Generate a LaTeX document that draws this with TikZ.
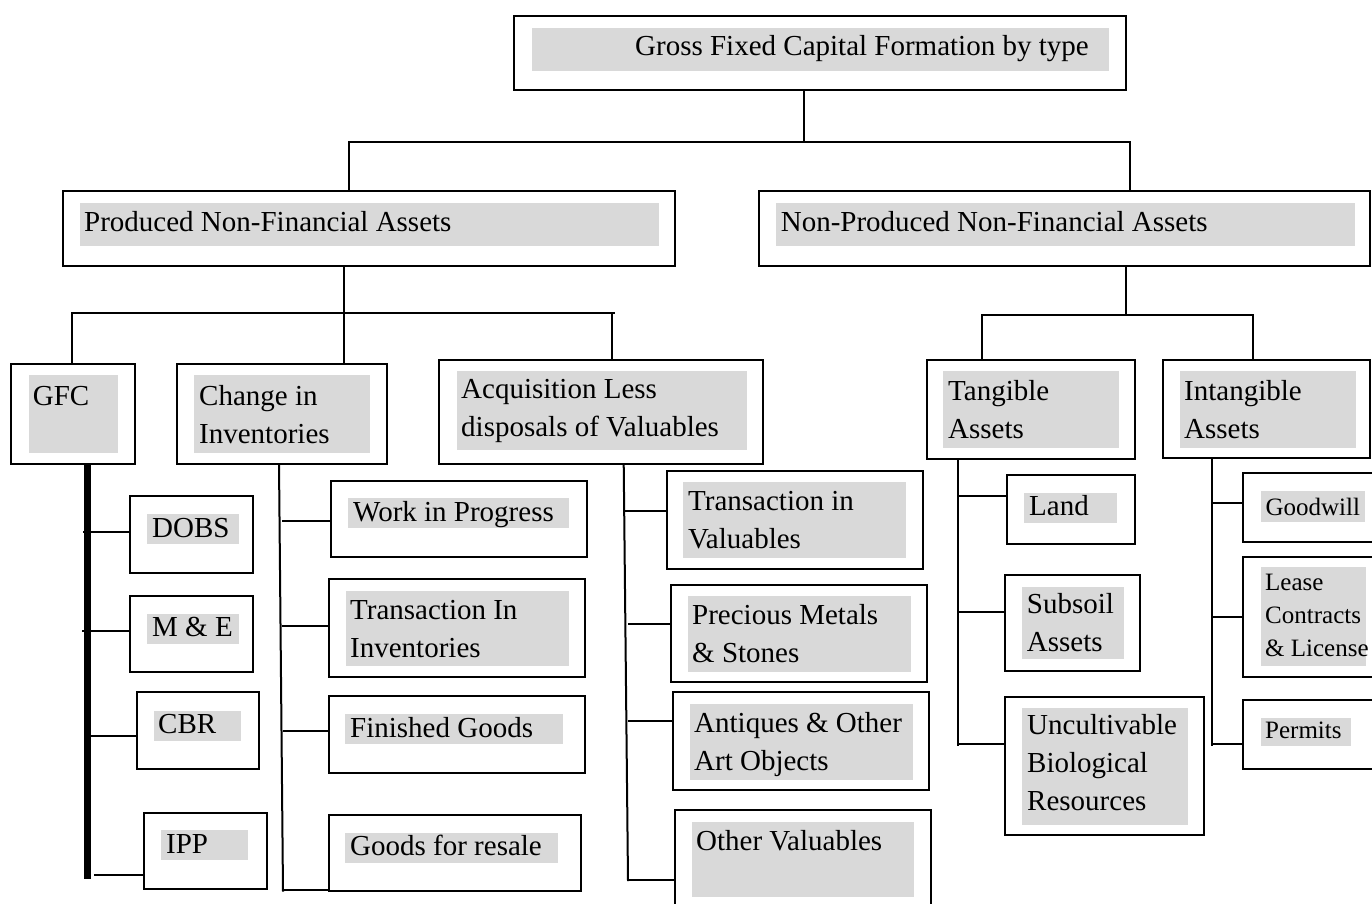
\documentclass[tikz,border=0pt]{standalone}
\usepackage{fontspec}
\setmainfont{Liberation Serif}
\definecolor{boxgrey}{RGB}{217,217,217}

\begin{document}
\begin{tikzpicture}[x=1pt, y=-1pt,
  box/.style={draw, line width=2pt, inner sep=0pt, outer sep=0pt, anchor=north west},
  shade/.style={fill=boxgrey},
  txt/.style={anchor=base west, inner sep=0pt, align=left, font=\fontsize{29}{38}\selectfont},
  smalltxt/.style={txt, font=\fontsize{25}{33}\selectfont},
  conn/.style={line width=2pt},
  spine/.style={line width=7pt}]
\useasboundingbox (0,0) rectangle (1372,903);
\clip (0,0) rectangle (1372,903);

% top level
\node[box, minimum width=612.5pt, minimum height=74.3pt] (gfcf) at (513.5,15.7) {};
\fill[shade] (531.6,28.3) rectangle (1109.4,70.7);
\node[txt] (gfcf-t) at (635,55) {Gross Fixed Capital Formation by type};

\node[box, minimum width=612.5pt, minimum height=75pt] (pnfa) at (62.5,190.7) {};
\fill[shade] (79.5,202.7) rectangle (659,245.7);
\node[txt] (pnfa-t) at (84,231) {Produced Non-Financial Assets};

\node[box, minimum width=611.3pt, minimum height=75pt] (npnfa) at (758.7,190.7) {};
\fill[shade] (775.9,202.7) rectangle (1355,245.7);
\node[txt] (npnfa-t) at (780.6,231) {Non-Produced Non-Financial Assets};

\coordinate (b1l) at (349,142);
\coordinate (b1m) at (804,142);
\coordinate (b1r) at (1130,142);
\draw[conn] (gfcf.south -| b1m) -- (b1m);
\draw[conn] (pnfa.north -| b1l) -- (b1l) -- (b1r) -- (npnfa.north -| b1r);

% produced (multi-line texts sit on their last baseline)
\node[box, minimum width=124pt, minimum height=99.6pt] (gfc) at (11,364) {};
\fill[shade] (29,375) rectangle (118,452.6);
\node[txt] (gfc-t) at (32.7,405) {GFC};

\node[box, minimum width=210pt, minimum height=99.6pt] (chinv) at (177,364) {};
\fill[shade] (194,375) rectangle (370,452.6);
\node[txt] (chinv-t) at (199,443.5) {Change in\\Inventories};

\node[box, minimum width=324pt, minimum height=103.6pt] (acq) at (439,360) {};
\fill[shade] (456.7,371) rectangle (746.7,450);
\node[txt] (acq-t) at (461,436.4) {Acquisition Less\\disposals of Valuables};

\coordinate (b2l) at (72,313);
\coordinate (b2m) at (343.5,313);
\coordinate (b2r) at (612,313);
\draw[conn] (pnfa.south -| b2m) -- (b2m);
\draw[conn] (gfc.north -| b2l) -- (b2l) -- (615,313);
\draw[conn] (b2r) -- (acq.north -| b2r);
\draw[conn] (b2m) -- (chinv.north -| b2m);

% non-produced
\node[box, minimum width=208.6pt, minimum height=99pt] (tang) at (926.7,360) {};
\fill[shade] (943,371) rectangle (1119,447.7);
\node[txt] (tang-t) at (948,438) {Tangible\\Assets};

\node[box, minimum width=207pt, minimum height=98pt] (intang) at (1163,360) {};
\fill[shade] (1180,371) rectangle (1356,447.7);
\node[txt] (intang-t) at (1184,438) {Intangible\\Assets};

\coordinate (b3l) at (982,315);
\coordinate (b3m) at (1126,315);
\coordinate (b3r) at (1253,315);
\draw[conn] (npnfa.south -| b3m) -- (b3m);
\draw[conn] (tang.north -| b3l) -- (b3l) -- (b3r) -- (intang.north -| b3r);

% GFC
\node[box, minimum width=122.7pt, minimum height=77pt] (dobs) at (130,496) {};
\fill[shade] (147,514) rectangle (238.7,544);
\node[txt] (dobs-t) at (152,537.7) {DOBS};

\node[box, minimum width=123pt, minimum height=76pt] (mne) at (130,596) {};
\fill[shade] (147,614) rectangle (239,644);
\node[txt] (mne-t) at (152,636.8) {M \& E};

\node[box, minimum width=122pt, minimum height=77pt] (cbr) at (137,692) {};
\fill[shade] (154,710.5) rectangle (241,740.5);
\node[txt] (cbr-t) at (158,733.8) {CBR};

\node[box, minimum width=123pt, minimum height=76pt] (ipp) at (144,813) {};
\fill[shade] (161,830) rectangle (248,860);
\node[txt] (ipp-t) at (166,853.7) {IPP};

\coordinate (gfc-end) at (87,879);
\draw[spine] (gfc.south -| gfc-end) -- (gfc-end);
\foreach \n/\x/\y in {dobs/83/531.7, mne/82/630.8, cbr/89/736, ipp/94/874.5}
  \draw[conn] (\x,\y) -- (\n.west |- 0,\y);

% change in inventories
\node[box, minimum width=256pt, minimum height=76.2pt] (wip) at (330.7,480.5) {};
\fill[shade] (348,498) rectangle (568.7,527.8);
\node[txt] (wip-t) at (353,521) {Work in Progress};

\node[box, minimum width=256pt, minimum height=98pt] (tii) at (328.7,578.6) {};
\fill[shade] (346,590.6) rectangle (568.7,665.7);
\node[txt] (tii-t) at (350,657) {Transaction In\\Inventories};

\node[box, minimum width=256pt, minimum height=76.6pt] (fg) at (328.7,696.4) {};
\fill[shade] (345,713.7) rectangle (562.7,744.4);
\node[txt] (fg-t) at (350,737.3) {Finished Goods};

\node[box, minimum width=252pt, minimum height=76pt] (gfr) at (328.7,815) {};
\fill[shade] (345,832.5) rectangle (557.7,862.5);
\node[txt] (gfr-t) at (350,855) {Goods for resale};

\coordinate (chinv-end) at (283,891.5);
\draw[conn] (chinv.south -| 279,0) -- (chinv-end);
\foreach \n/\x/\y in {wip/282/521.4, tii/282/626, fg/283/731, gfr/283/889.7}
  \draw[conn] (\x,\y) -- (\n.west |- 0,\y);

% valuables
\node[box, minimum width=256pt, minimum height=98pt] (tiv) at (666.7,471) {};
\fill[shade] (683,482) rectangle (906,557.8);
\node[txt] (tiv-t) at (688,548.6) {Transaction in\\Valuables};

\node[box, minimum width=256pt, minimum height=97.4pt] (pms) at (670.7,584.6) {};
\fill[shade] (688,596) rectangle (910.7,671.7);
\node[txt] (pms-t) at (692,662) {Precious Metals\\\& Stones};

\node[box, minimum width=256.3pt, minimum height=98pt] (aoao) at (672.7,692) {};
\fill[shade] (690,704) rectangle (912.7,779.6);
\node[txt] (aoao-t) at (694,770.5) {Antiques \& Other\\Art Objects};

\node[box, minimum width=256pt, minimum height=105pt] (ov) at (675,810) {};
\fill[shade] (692,822) rectangle (914,897);
\node[txt] (ov-t) at (696,850) {Other Valuables};

\coordinate (acq-end) at (628,881);
\draw[conn] (acq.south -| 623.7,0) -- (acq-end);
\foreach \n/\x/\y in {tiv/624.7/510.5, pms/628/623.7, aoao/628/721, ov/628/880}
  \draw[conn] (\x,\y) -- (\n.west |- 0,\y);

% tangible
\node[box, minimum width=128.6pt, minimum height=68.7pt] (land) at (1006.7,475.3) {};
\fill[shade] (1024,493.3) rectangle (1116.7,523.3);
\node[txt] (land-t) at (1029,515.7) {Land};

\node[box, minimum width=134.7pt, minimum height=95.4pt] (subsoil) at (1005.3,575.3) {};
\fill[shade] (1022,587.3) rectangle (1123.7,659.3);
\node[txt] (subsoil-t) at (1026.7,651.7) {Subsoil\\Assets};

\node[box, minimum width=198.4pt, minimum height=138.6pt] (ubr) at (1005.3,696.7) {};
\fill[shade] (1022,708.3) rectangle (1187.7,824.7);
\node[txt] (ubr-t) at (1027,810) {Uncultivable\\Biological\\Resources};

\coordinate (tang-end) at (957.7,746);
\draw[conn] (tang.south -| tang-end) -- (tang-end);
\foreach \n/\y in {land/496, subsoil/611.7, ubr/744.3}
  \draw[conn] (957.7,\y) -- (\n.west |- 0,\y);

% intangible
\node[box, minimum width=140pt, minimum height=68.4pt] (goodwill) at (1243.3,473.3) {};
\fill[shade] (1261,491.3) rectangle (1365,521.7);
\node[smalltxt] (goodwill-t) at (1265.3,515) {Goodwill};

\node[box, minimum width=140pt, minimum height=120pt] (lease) at (1243.3,556.7) {};
\fill[shade] (1261,567) rectangle (1366,665.7);
\node[smalltxt] (lease-t) at (1265,656.7) {Lease\\Contracts\\\& License};

\node[box, minimum width=140pt, minimum height=68.7pt] (permits) at (1243.3,700) {};
\fill[shade] (1261,718.3) rectangle (1350.7,746);
\node[smalltxt] (permits-t) at (1265,738.3) {Permits};

\coordinate (intang-end) at (1212,746);
\draw[conn] (intang.south -| intang-end) -- (intang-end);
\foreach \n/\y in {goodwill/503, lease/616.7, permits/744.3}
  \draw[conn] (1212,\y) -- (\n.west |- 0,\y);
\end{tikzpicture}
\end{document}
